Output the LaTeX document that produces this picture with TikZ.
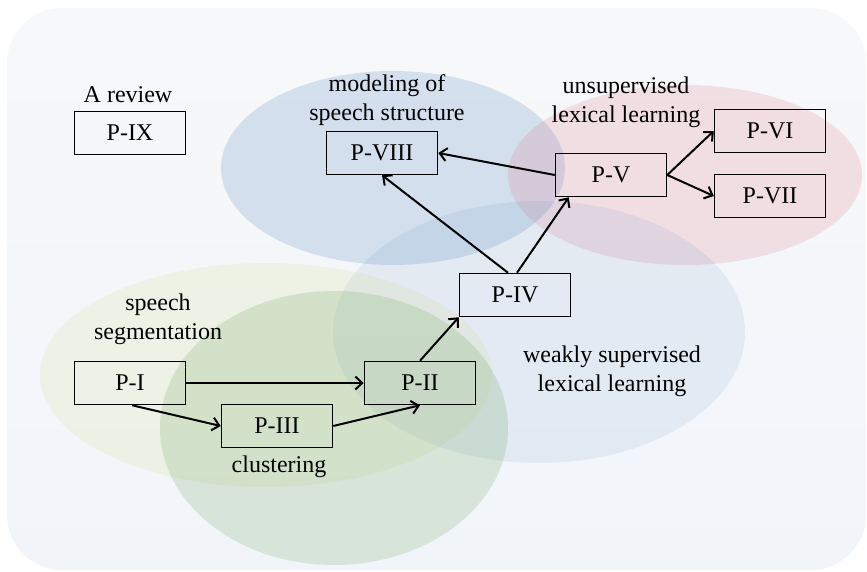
\documentclass[tikz,border=0pt]{standalone}
\usepackage{fontspec}
\setmainfont{Liberation Serif}
\usetikzlibrary{arrows.meta}

\definecolor{bgtop}{RGB}{247,248,249}
\definecolor{bgbottom}{RGB}{241,245,250}
\definecolor{setblue}{RGB}{79,129,189}
\definecolor{setred}{RGB}{217,100,120}
\definecolor{setyellow}{RGB}{205,215,120}
\definecolor{setgreen}{RGB}{120,170,100}

\begin{document}
\begin{tikzpicture}[
    x=1pt, y=-1pt,
    font=\fontsize{24}{29}\selectfont,
    paper/.style={rectangle, draw=black, line width=1.5pt, fill=none,
        minimum width=111pt, minimum height=43pt, inner sep=0pt},
    topic/.style={align=center, inner sep=0pt},
    link/.style={line width=2pt, -{Straight Barb[length=7pt,width=13pt]}}
]
    \useasboundingbox (0,0) rectangle (867,572);
    % background panel
    \shade[rounded corners=55pt, top color=bgtop, bottom color=bgbottom,
        middle color=bgtop!50!bgbottom]
        (7,8) rectangle (866,570);
    % research areas
    \fill[setblue, fill opacity=0.2] (393,168) ellipse [x radius=172pt, y radius=97pt];
    \fill[setred, fill opacity=0.17] (685,175) ellipse [x radius=177pt, y radius=90pt];
    \fill[setblue, fill opacity=0.1] (539,332) ellipse [x radius=206pt, y radius=131pt];
    \fill[setyellow, fill opacity=0.15] (266,375) ellipse [x radius=226pt, y radius=112pt];
    \fill[setgreen, fill opacity=0.22] (334,428) ellipse [x radius=174pt, y radius=137pt];

    \node[topic] (review) at (128,95) {A review};
    \node[topic] (modeling) at (387,100) {modeling of\\speech structure};
    \node[topic] (unsup) at (626,102) {unsupervised\\lexical learning};
    \node[topic] (seg) at (158,319) {speech\\segmentation};
    \node[topic] (clust) at (279,467) {clustering};
    \node[topic] (weakly) at (612,371) {weakly supervised\\lexical learning};

    \node[paper] (p9) at (130,133) {P-IX};
    \node[paper] (p8) at (382,153) {P-VIII};
    \node[paper] (p5) at (611,175) {P-V};
    \node[paper] (p6) at (770,131) {P-VI};
    \node[paper] (p7) at (770,196) {P-VII};
    \node[paper] (p4) at (515,295) {P-IV};
    \node[paper] (p1) at (130,383) {P-I};
    \node[paper] (p2) at (420,383) {P-II};
    \node[paper] (p3) at (277,426) {P-III};

    \draw[link] (p1) -- (p2);
    \draw[link] ([xshift=2pt]p1.south) -- (p3.west);
    \draw[link] (p3.east) -- (p2.south);
    \draw[link] (p2.north) -- (p4.south west);
    \draw[link] ([xshift=-7pt]p4.north) -- (p8.south);
    \draw[link] ([xshift=2pt]p4.north) -- ([xshift=14pt]p5.south west);
    \draw[link] (p5.west) -- (p8.east);
    \draw[link] (p5.east) -- (p6.west);
    \draw[link] (p5.east) -- (p7.west);
\end{tikzpicture}
\end{document}
